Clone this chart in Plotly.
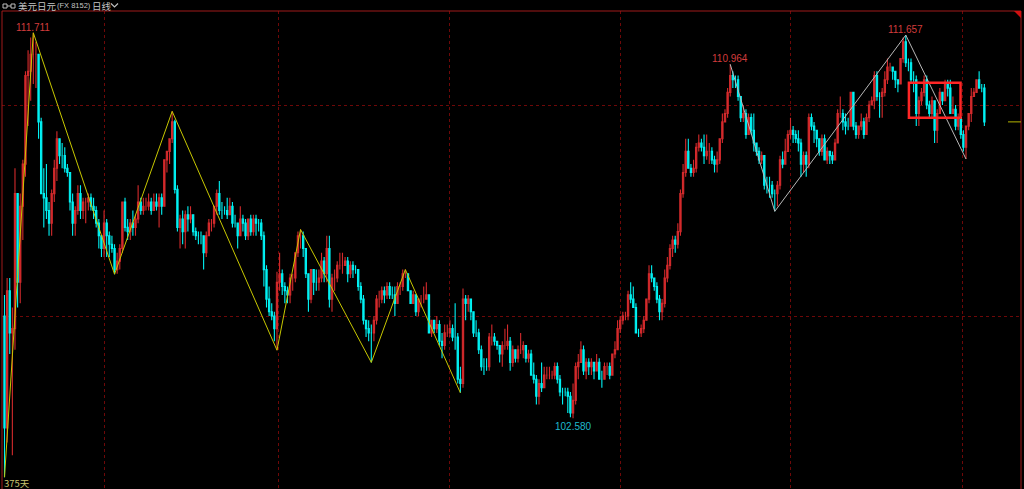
import plotly.graph_objects as go

# ---------------- data: USD/JPY daily bars (375 bars) ----------------
opens = [
    105.0,102.35,105.6,104.6,104.7,107.9,105.8,107.6,108.6,110.7,110.8,111.2,111.2,111.2,109.6,107.9,107.8,
    107.5,107.2,107.9,108.5,109.2,108.8,108.8,108.5,108.4,107.7,107.2,107.5,107.9,107.5,107.7,107.7,107.8,107.6,107.5,107.2,106.9,106.6,
    107.2,106.9,106.7,106.6,106.1,106.3,106.6,107.7,107.1,107.0,107.2,107.1,107.3,107.7,107.5,107.6,107.6,107.7,107.5,107.7,107.6,
    107.8,107.6,108.7,108.9,109.2,109.6,108.0,107.1,107.3,107.0,107.4,107.3,107.4,107.0,106.9,106.9,106.9,106.5,106.9,107.2,107.2,107.6,
    107.9,107.5,107.5,107.5,107.4,107.6,107.2,107.2,106.9,107.3,107.2,106.9,107.3,107.0,107.3,107.2,107.2,106.9,106.1,105.4,105.1,105.0,104.7,
    105.8,106.0,105.7,105.6,105.5,105.9,105.9,106.5,106.9,106.9,106.6,106.0,105.4,106.1,105.8,105.8,105.9,106.3,106.0,106.6,105.4,
    105.9,105.9,106.2,106.2,106.2,106.3,106.0,106.2,106.1,106.1,105.7,105.4,104.9,104.7,104.6,104.6,104.9,105.4,105.4,105.6,105.5,105.7,
    105.5,105.5,105.3,105.7,105.7,106.0,106.0,105.6,105.3,105.5,105.1,105.4,105.4,105.4,105.5,104.6,104.9,104.7,104.8,104.4,104.3,104.6,
    104.6,104.7,104.5,104.5,103.5,103.4,105.4,105.3,105.4,105.1,104.6,104.6,104.2,103.8,103.8,103.8,104.5,104.5,104.4,104.3,104.1,
    104.3,104.3,104.4,103.9,104.2,104.0,104.2,104.2,104.3,104.0,104.1,103.6,103.5,103.1,103.4,103.3,103.6,103.6,103.6,103.6,103.8,103.5,103.2,
    103.2,103.2,103.1,102.7,103.0,103.8,103.9,104.2,103.7,103.9,103.8,103.9,103.7,103.9,103.5,103.5,103.8,103.8,103.6,104.1,104.2,
    104.7,104.9,105.0,105.0,105.5,105.4,105.2,104.6,104.6,104.7,104.9,105.4,106.0,105.9,105.7,105.4,105.1,105.3,105.9,106.2,
    106.6,106.8,106.7,107.0,107.9,108.4,108.9,108.5,108.4,108.5,109.0,109.1,109.0,108.8,108.9,108.9,108.7,108.6,108.7,109.2,109.6,109.8,110.3,
    110.7,110.6,110.6,110.2,109.7,109.8,109.3,109.7,109.4,109.1,108.9,108.7,108.8,108.1,108.1,108.1,107.9,107.9,108.1,108.7,108.6,108.9,
    109.3,109.4,109.3,109.2,109.1,108.6,108.8,108.6,109.7,109.5,109.4,109.2,108.9,109.2,108.7,108.9,108.8,108.7,109.1,109.8,109.8,
    109.6,109.5,109.5,110.3,109.5,109.3,109.5,109.6,109.3,109.7,110.0,110.1,110.7,110.2,110.2,110.3,110.6,110.9,110.9,110.8,110.6,110.5,
    111.1,111.5,111.0,111.0,110.6,110.6,109.8,110.1,110.3,110.6,110.0,109.8,110.1,109.4,109.8,110.3,110.1,110.5,110.4,109.8,109.9,109.5,
    109.7,109.3,109.0,109.5,109.8,110.2,110.3,110.6,110.4,110.4,
]
highs = [
    105.5,105.9,105.9,105.2,108.5,107.9,107.9,108.7,110.8,111.3,111.6,111.711,111.5,111.2,109.7,108.5,108.6,
    107.7,108.0,108.7,109.38,109.2,109.1,109.0,108.6,108.4,107.9,107.6,108.1,108.1,107.8,107.8,107.9,107.9,107.8,107.6,107.3,106.9,107.5,
    107.3,107.0,106.9,106.7,106.5,106.7,107.7,107.8,107.3,107.3,107.5,107.4,108.1,107.8,107.8,107.8,107.9,107.8,107.9,107.9,107.9,
    107.9,108.7,108.9,109.2,109.85,109.65,108.1,107.4,107.5,107.5,107.6,107.6,107.4,107.1,107.0,107.0,106.9,107.0,107.3,107.3,107.6,108.0,
    108.2,107.7,107.6,107.8,107.8,107.7,107.4,107.2,107.6,107.4,107.3,107.3,107.4,107.4,107.4,107.3,107.3,107.0,106.2,105.7,105.3,105.1,106.05,
    106.5,106.1,105.8,105.7,106.0,106.0,106.5,107.0,107.05,107.0,106.6,106.0,106.1,106.1,106.1,106.1,106.5,106.4,106.9,106.9,106.0,
    106.1,106.3,106.5,106.5,106.4,106.4,106.3,106.3,106.2,106.1,105.8,105.5,104.9,104.9,104.8,105.0,105.5,105.6,105.7,105.7,105.8,105.8,
    105.7,105.7,105.8,105.8,106.1,106.1,106.0,105.6,105.6,105.5,105.4,105.5,105.7,105.8,105.5,104.9,104.9,105.0,104.9,104.6,104.8,104.8,
    104.9,104.8,105.3,104.6,103.8,105.65,105.5,105.5,105.4,105.1,104.9,104.7,104.3,104.0,104.0,104.6,104.8,104.6,104.4,104.3,104.4,
    104.7,104.8,104.5,104.3,104.2,104.3,104.6,104.4,104.3,104.2,104.2,103.9,103.6,103.5,103.9,103.8,103.8,103.8,103.7,103.9,103.9,103.6,103.3,
    103.3,103.3,103.2,103.4,103.9,104.1,104.4,104.3,104.0,104.0,104.0,103.9,104.1,104.0,103.7,103.9,103.9,103.9,104.1,104.4,104.9,
    105.0,105.1,105.1,105.6,105.8,105.7,105.3,104.7,104.8,105.0,105.4,106.2,106.2,105.9,105.8,105.5,105.4,106.1,106.4,106.7,
    106.9,106.9,107.2,108.0,108.6,109.2,109.2,108.6,108.7,109.1,109.3,109.2,109.3,109.3,109.1,109.0,108.8,108.9,109.2,109.8,109.9,110.4,110.964,
    110.8,110.7,110.7,110.2,110.0,109.9,109.8,109.8,109.8,109.1,109.0,108.9,108.8,108.3,108.3,108.2,108.0,108.2,108.8,108.9,109.2,109.4,
    109.7,109.5,109.4,109.4,109.2,108.9,108.9,109.8,109.8,109.6,109.4,109.2,109.3,109.3,109.0,108.9,108.9,109.2,109.9,110.2,109.9,
    109.8,109.7,110.3,110.3,109.6,109.5,109.8,109.7,109.8,110.1,110.2,110.8,110.8,110.3,110.4,110.8,111.1,111.0,110.9,110.8,110.6,111.1,
    111.6,111.657,111.1,111.1,110.8,110.7,110.2,110.4,110.7,110.7,110.1,110.2,110.1,109.9,110.4,110.3,110.6,110.6,110.6,110.2,110.0,109.8,
    109.7,109.4,109.5,109.8,110.4,110.4,110.6,110.8,110.5,110.5,
]
lows = [
    101.18,102.0,104.1,101.7,104.2,105.2,105.3,106.8,108.3,109.5,110.1,110.5,110.4,109.2,107.9,107.1,107.3,
    106.9,106.9,107.7,108.2,108.6,108.5,108.4,108.3,107.5,106.9,106.9,107.4,107.3,107.3,107.2,107.5,107.5,107.3,107.1,106.6,106.4,106.4,
    106.4,106.4,106.5,105.99,106.0,106.1,106.5,107.0,106.8,106.8,106.9,106.9,107.2,107.4,107.4,107.5,107.5,107.4,107.5,107.5,107.1,
    107.4,107.6,108.4,108.6,109.1,107.9,107.0,106.6,106.7,106.6,107.0,107.2,106.9,106.8,106.7,106.7,106.1,106.4,106.9,107.0,107.1,107.4,
    107.4,107.3,107.4,107.3,107.4,107.1,107.1,106.6,106.9,107.0,106.8,106.8,106.9,106.9,106.9,107.0,106.8,105.7,105.2,105.0,104.9,104.4,104.19,
    105.6,105.5,105.3,105.3,105.3,105.6,105.8,106.4,106.6,106.4,105.9,105.1,105.3,105.5,105.6,105.6,105.8,105.8,105.8,105.2,105.1,
    105.6,105.8,106.1,106.0,106.2,105.8,105.9,105.9,106.0,105.6,105.3,104.8,104.5,104.4,103.9,104.4,104.8,105.2,105.3,105.3,105.4,105.4,
    105.4,105.0,105.3,105.5,105.6,105.9,105.6,105.3,105.3,105.0,105.0,105.2,105.3,105.4,104.6,104.5,104.6,104.6,104.3,104.0,104.2,104.5,
    104.5,104.4,104.2,103.4,103.18,103.3,104.9,105.1,104.9,104.5,104.5,104.1,103.7,103.6,103.7,103.7,104.3,104.3,104.2,103.9,103.8,
    104.2,104.2,103.7,103.8,103.9,103.9,104.1,104.0,103.9,103.9,103.6,103.4,102.9,102.9,103.2,103.3,103.5,103.5,103.5,103.5,103.4,103.1,102.9,
    103.1,102.7,102.6,102.58,102.9,103.5,103.9,103.6,103.5,103.6,103.6,103.5,103.7,103.5,103.3,103.5,103.6,103.5,103.6,104.0,104.2,
    104.6,104.8,104.9,104.9,105.3,105.2,104.6,104.5,104.5,104.6,104.9,105.3,105.8,105.6,105.3,104.9,104.9,105.2,105.8,106.1,
    106.4,106.5,106.6,106.9,107.8,108.3,108.5,108.3,108.3,108.4,108.9,108.9,108.6,108.7,108.6,108.6,108.4,108.4,108.6,109.1,109.6,109.7,110.2,
    110.4,110.4,110.1,109.6,109.6,109.2,109.3,109.3,108.9,108.8,108.6,108.6,108.0,107.9,107.8,107.8,107.48,107.6,108.0,108.5,108.6,108.9,
    109.2,109.1,109.1,108.9,108.3,108.4,108.3,108.5,109.4,109.1,109.0,108.8,108.8,108.7,108.6,108.6,108.6,108.7,109.1,109.7,109.4,
    109.3,109.4,109.5,109.4,109.2,109.2,109.4,109.2,109.3,109.6,110.0,109.9,110.1,109.7,109.7,110.2,110.5,110.8,110.6,110.4,110.3,110.5,
    111.0,110.9,110.8,110.5,110.3,109.5,109.5,110.0,110.2,109.9,109.7,109.7,109.1,109.1,109.8,110.0,110.1,110.2,109.8,109.8,109.4,109.4,
    109.2,108.9,108.72,109.4,109.6,110.2,110.3,110.4,110.3,109.5,
]
closes = [
    102.35,105.6,104.6,104.7,107.9,105.8,107.6,108.6,110.7,110.8,111.2,111.2,111.2,109.6,107.9,107.8,107.5,
    107.2,107.9,108.5,109.2,108.8,108.8,108.5,108.4,107.7,107.2,107.5,107.9,107.5,107.7,107.7,107.8,107.6,107.5,107.2,106.9,106.6,107.2,
    106.9,106.7,106.6,106.1,106.3,106.6,107.7,107.1,107.0,107.2,107.1,107.3,107.7,107.5,107.6,107.6,107.7,107.5,107.7,107.6,107.8,
    107.6,108.7,108.9,109.2,109.6,108.0,107.1,107.3,107.0,107.4,107.3,107.4,107.0,106.9,106.9,106.9,106.5,106.9,107.2,107.2,107.6,107.9,
    107.5,107.5,107.5,107.4,107.6,107.2,107.2,106.9,107.3,107.2,106.9,107.3,107.0,107.3,107.2,107.2,106.9,106.1,105.4,105.1,105.0,104.7,105.8,
    106.0,105.7,105.6,105.5,105.9,105.9,106.5,106.9,106.9,106.6,106.0,105.4,106.1,105.8,105.8,105.9,106.3,106.0,106.6,105.4,105.9,
    105.9,106.2,106.2,106.2,106.3,106.0,106.2,106.1,106.1,105.7,105.4,104.9,104.7,104.6,104.6,104.9,105.4,105.4,105.6,105.5,105.7,105.5,
    105.5,105.3,105.7,105.7,106.0,106.0,105.6,105.3,105.5,105.1,105.4,105.4,105.4,105.5,104.6,104.9,104.7,104.8,104.4,104.3,104.6,104.6,
    104.7,104.5,104.5,103.5,103.4,105.4,105.3,105.4,105.1,104.6,104.6,104.2,103.8,103.8,103.8,104.5,104.5,104.4,104.3,104.1,104.3,
    104.3,104.4,103.9,104.2,104.0,104.2,104.2,104.3,104.0,104.1,103.6,103.5,103.1,103.4,103.3,103.6,103.6,103.6,103.6,103.8,103.5,103.2,103.2,
    103.2,103.1,102.7,103.0,103.8,103.9,104.2,103.7,103.9,103.8,103.9,103.7,103.9,103.5,103.5,103.8,103.8,103.6,104.1,104.2,104.7,
    104.9,105.0,105.0,105.5,105.4,105.2,104.6,104.6,104.7,104.9,105.4,106.0,105.9,105.7,105.4,105.1,105.3,105.9,106.2,106.6,
    106.8,106.7,107.0,107.9,108.4,108.9,108.5,108.4,108.5,109.0,109.1,109.0,108.8,108.9,108.9,108.7,108.6,108.7,109.2,109.6,109.8,110.3,110.7,
    110.6,110.6,110.2,109.7,109.8,109.3,109.7,109.4,109.1,108.9,108.7,108.8,108.1,108.1,108.1,107.9,107.9,108.1,108.7,108.6,108.9,109.3,
    109.4,109.3,109.2,109.1,108.6,108.8,108.6,109.7,109.5,109.4,109.2,108.9,109.2,108.7,108.9,108.8,108.7,109.1,109.8,109.8,109.6,
    109.5,109.5,110.3,109.5,109.3,109.5,109.6,109.3,109.7,110.0,110.1,110.7,110.2,110.2,110.3,110.6,110.9,110.9,110.8,110.6,110.5,111.1,
    111.5,111.0,111.0,110.6,110.6,109.8,110.1,110.3,110.6,110.0,109.8,110.1,109.4,109.8,110.3,110.1,110.5,110.4,109.8,109.9,109.5,109.7,
    109.3,109.0,109.5,109.8,110.2,110.3,110.6,110.4,110.4,109.6,
]
bars = list(range(len(closes)))

# zigzag pivots (bar index, price)
yellow_zig_idx = [0, 11, 42, 64, 104, 113, 140, 153, 174]
yellow_zig_px = [101.18, 111.711, 105.99, 109.85, 104.19, 107.05, 103.9, 106.1, 103.18]
white_zig_idx = [277, 294, 344, 367]
white_zig_px = [110.964, 107.48, 111.657, 108.72]

# extreme labels
peak_labels = ["111.711", "110.964", "111.657"]
peak_idx = [11, 277, 344]
peak_px = [111.711, 110.964, 111.657]
low_label = "102.580"
low_idx = 217
low_px = 102.58

title_cn = "美元日元"
title_code = "(FX 8152)"
period_text = "日线"
count_text = "375天"

# ---------------- geometry helpers (page pixels -> paper) ----------------
PL, PR, PT, PB = 2, 1021, 11, 489


def px(xp):
    return (xp - PL) / (PR - PL)


def py(yp):
    return (PB - yp) / (PB - PT)


# ---------------- figure ----------------
fig = go.Figure()
fig.add_trace(go.Candlestick(
    x=bars, open=opens, high=highs, low=lows, close=closes,
    increasing=dict(line=dict(color="#d42a2c", width=1.1), fillcolor="#d42a2c"),
    decreasing=dict(line=dict(color="#00f2f4", width=1.1), fillcolor="#00f2f4"),
    whiskerwidth=0, hoverinfo="skip", showlegend=False,
))
fig.add_trace(go.Scatter(x=yellow_zig_idx, y=yellow_zig_px, mode="lines",
                         line=dict(color="#c8c800", width=1), hoverinfo="skip", showlegend=False))
fig.add_trace(go.Scatter(x=white_zig_idx, y=white_zig_px, mode="lines",
                         line=dict(color="#b8b8b8", width=1), hoverinfo="skip", showlegend=False))

ann = []
num_font = dict(family="Liberation Sans, DejaVu Sans", size=10)
for t, xi, yp in zip(peak_labels, peak_idx, peak_px):
    ann.append(dict(x=xi, y=yp, xref="x", yref="y", text=t, showarrow=False,
                    yanchor="bottom", xanchor="center", yshift=-2,
                    font=dict(num_font, color="#d23c3c")))
ann.append(dict(x=low_idx, y=low_px, xref="x", yref="y", text=low_label, showarrow=False,
                yanchor="top", xanchor="center", yshift=-1,
                font=dict(num_font, color="#1fb9cc")))
ann.append(dict(x=px(3), y=py(483), xref="paper", yref="paper", text=count_text, showarrow=False,
                xanchor="left", yanchor="middle", borderpad=0,
                font=dict(family="Noto Sans CJK SC", size=9.5, color="#c8c46e")))
# header
hdr_font = dict(family="Noto Sans CJK SC", size=9.5, color="#c4c4c4")
ann.append(dict(x=px(17), y=py(6), xref="paper", yref="paper", text=title_cn, showarrow=False,
                xanchor="left", yanchor="middle", borderpad=0, font=hdr_font))
ann.append(dict(x=px(56), y=py(6), xref="paper", yref="paper", text=title_code, showarrow=False,
                xanchor="left", yanchor="middle", borderpad=0,
                font=dict(family="Liberation Sans", size=7.5, color="#c4c4c4")))
ann.append(dict(x=px(91), y=py(6), xref="paper", yref="paper", text=period_text, showarrow=False,
                xanchor="left", yanchor="middle", borderpad=0, font=hdr_font))

frame = "#a01a1a"
grey = "#bdbdbd"
shapes = [
    dict(type="line", xref="paper", yref="paper", x0=0, x1=1, y0=1, y1=1, line=dict(color=frame, width=1)),
    dict(type="line", xref="paper", yref="paper", x0=0, x1=0, y0=0, y1=1, line=dict(color=frame, width=1)),
    dict(type="line", xref="paper", yref="paper", x0=1, x1=1, y0=0, y1=1, line=dict(color=frame, width=1)),
    dict(type="path", xref="paper", yref="paper",
         path=f"M {px(1014)} {py(11)} L {px(1021)} {py(11)} L {px(1021)} {py(18)} Z",
         fillcolor="#d01010", line=dict(width=0)),
    # header icon: two small boxes joined by a line
    dict(type="rect", xref="paper", yref="paper", x0=px(3), x1=px(7), y0=py(8), y1=py(4),
         line=dict(color=grey, width=1)),
    dict(type="line", xref="paper", yref="paper", x0=px(7), x1=px(11), y0=py(6), y1=py(6),
         line=dict(color=grey, width=1)),
    dict(type="rect", xref="paper", yref="paper", x0=px(11), x1=px(15), y0=py(8), y1=py(4),
         line=dict(color=grey, width=1)),
    # header chevron
    dict(type="path", xref="paper", yref="paper",
         path=f"M {px(111)} {py(3.5)} L {px(114.5)} {py(7)} L {px(118)} {py(3.5)}",
         line=dict(color=grey, width=1.2)),
    # selection box
    dict(type="rect", xref="x", yref="y", x0=345.2, x1=364.9, y0=109.70, y1=110.53,
         line=dict(color="#ff2626", width=2.5), fillcolor="rgba(0,0,0,0)"),
    # last price marker
    dict(type="line", xref="paper", yref="y", x0=px(1008), x1=1, y0=closes[-1], y1=closes[-1],
         line=dict(color="#b4b400", width=1)),
]

fig.update_layout(
    width=1024, height=489,
    margin=dict(l=PL, r=1024 - PR, t=PT, b=0),
    paper_bgcolor="#000000", plot_bgcolor="#000000",
    showlegend=False,
    annotations=ann, shapes=shapes,
    xaxis=dict(range=[-0.954, 387.98], rangeslider=dict(visible=False),
               tickmode="array", tickvals=[38, 104.5, 170, 235, 300, 365.5],
               showticklabels=False, ticks="", showgrid=True, gridcolor="#6e0808",
               griddash="dot", gridwidth=1, zeroline=False, showline=False, fixedrange=True),
    yaxis=dict(range=[100.9005, 112.2275], tickmode="array", tickvals=[105, 110],
               showticklabels=False, ticks="", showgrid=True, gridcolor="#6e0808",
               griddash="dot", gridwidth=1, zeroline=False, showline=False, fixedrange=True),
)

fig.write_html("out.html", config={"displayModeBar": False},
               post_script="document.body.style.margin='0';document.body.style.overflow='hidden';")
